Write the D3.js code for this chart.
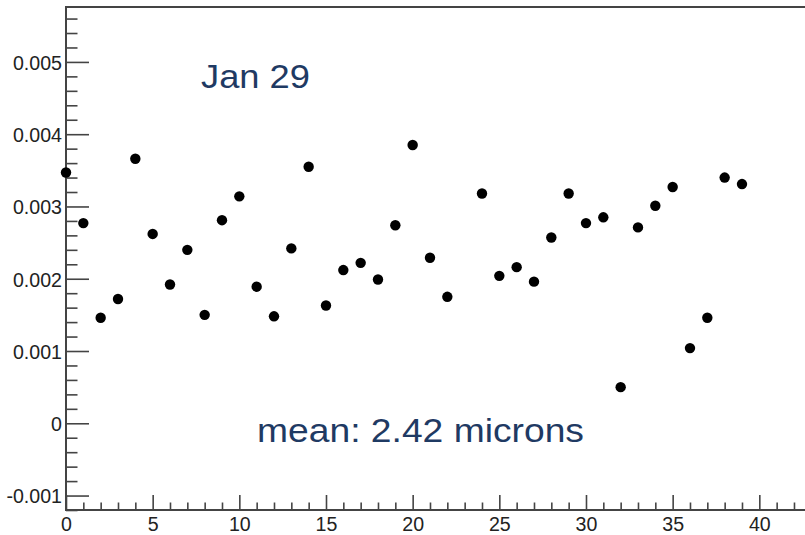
<!DOCTYPE html>
<html>
<head>
<meta charset="utf-8">
<script src="https://cdn.jsdelivr.net/npm/d3@7"></script>
<style>
  html, body { margin: 0; padding: 0; background: #fff; }
  svg { display: block; }
</style>
</head>
<body>
<svg id="chart" width="805" height="535"></svg>
<script>
// Run index (channel) and measured offset per run
const runIndex = [0, 1, 2, 3, 4, 5, 6, 7, 8, 9, 10, 11, 12, 13, 14, 15, 16, 17, 18, 19,
                  20, 21, 22, 24, 25, 26, 27, 28, 29, 30, 31, 32, 33, 34, 35, 36, 37, 38, 39];
const offsets = [0.00347, 0.00277, 0.00146, 0.00172, 0.00366, 0.00262, 0.00192, 0.00240, 0.00150, 0.00281,
                 0.00314, 0.00189, 0.00148, 0.00242, 0.00355, 0.00163, 0.00212, 0.00222, 0.00199, 0.00274,
                 0.00385, 0.00229, 0.00175, 0.00318, 0.00204, 0.00216, 0.00196, 0.00257, 0.00318, 0.00277,
                 0.00285, 0.00050, 0.00271, 0.00301, 0.00327, 0.00104, 0.00146, 0.00340, 0.00331];

const xMajorTicks = [0, 5, 10, 15, 20, 25, 30, 35, 40];
const yMajorTicks = [-0.001, 0, 0.001, 0.002, 0.003, 0.004, 0.005];
const yTickLabels = ["-0.001", "0", "0.001", "0.002", "0.003", "0.004", "0.005"];

const titleText = "Jan 29";
const meanText = "mean: 2.42 microns";

const svg = d3.select("#chart");
const plotLeft = 66, plotTop = 7, plotBottom = 510;
const unitPx = 17.333;
const xMax = 43;

const x = d3.scaleLinear().domain([0, xMax]).range([plotLeft, plotLeft + xMax * unitPx]);
const y = d3.scaleLinear().domain([-0.0012, 0.00576]).range([plotBottom, plotTop]);

const axisColor = "#444";
const labelFont = "'Liberation Sans', Arial, Helvetica, sans-serif";
const tickFontSize = 19.6;

// Minor ticks
const yMinor = d3.range(-12, 57, 2).map(v => v / 10000).filter(v => !yMajorTicks.some(m => Math.abs(m - v) < 1e-9));
const xMinor = d3.range(0, xMax + 1).filter(v => v % 5 !== 0);

svg.append("g")
  .attr("transform", `translate(${plotLeft},0)`)
  .call(d3.axisLeft(y).tickValues(yMinor).tickSize(-11.5).tickFormat(""))
  .call(g => g.select(".domain").remove())
  .call(g => g.selectAll("line").attr("stroke", axisColor).attr("stroke-width", 1.6));

svg.append("g")
  .attr("transform", `translate(0,${plotBottom})`)
  .call(d3.axisBottom(x).tickValues(xMinor).tickSize(-7.5).tickFormat(""))
  .call(g => g.select(".domain").remove())
  .call(g => g.selectAll("line").attr("stroke", axisColor).attr("stroke-width", 1.6));

// Major ticks with labels
svg.append("g")
  .attr("transform", `translate(${plotLeft},0)`)
  .call(d3.axisLeft(y).tickValues(yMajorTicks).tickSize(-23).tickPadding(4)
        .tickFormat((d, i) => yTickLabels[i]))
  .call(g => g.select(".domain").remove())
  .call(g => g.selectAll("line").attr("stroke", axisColor).attr("stroke-width", 1.6))
  .call(g => g.selectAll("text")
      .attr("fill", "#222").attr("font-size", tickFontSize).attr("font-family", labelFont)
      .attr("dy", "0.38em"));

svg.append("g")
  .attr("transform", `translate(0,${plotBottom})`)
  .call(d3.axisBottom(x).tickValues(xMajorTicks).tickSize(-15).tickPadding(7.5)
        .tickFormat(d3.format("d")))
  .call(g => g.select(".domain").remove())
  .call(g => g.selectAll("line").attr("stroke", axisColor).attr("stroke-width", 1.6))
  .call(g => g.selectAll("text")
      .attr("fill", "#222").attr("font-size", tickFontSize).attr("font-family", labelFont)
      .attr("dy", "0.71em"));

// Frame
svg.append("rect")
  .attr("x", x(0)).attr("y", y(0.00576))
  .attr("width", x(xMax) - x(0)).attr("height", y(-0.0012) - y(0.00576))
  .attr("fill", "none").attr("stroke", axisColor).attr("stroke-width", 2);

// Points
svg.append("g")
  .selectAll("circle")
  .data(runIndex.map((r, i) => [r, offsets[i]]))
  .join("circle")
  .attr("cx", d => x(d[0]))
  .attr("cy", d => y(d[1]))
  .attr("r", 5.2)
  .attr("fill", "#000");

// Annotations
svg.append("text")
  .attr("x", 201).attr("y", 87.5)
  .attr("font-family", labelFont).attr("font-size", 34)
  .attr("fill", "#1f3a63")
  .attr("textLength", 109).attr("lengthAdjust", "spacingAndGlyphs")
  .text(titleText);

svg.append("text")
  .attr("x", 257).attr("y", 442)
  .attr("font-family", labelFont).attr("font-size", 34)
  .attr("fill", "#1f3a63")
  .attr("textLength", 327).attr("lengthAdjust", "spacingAndGlyphs")
  .text(meanText);
</script>
</body>
</html>
